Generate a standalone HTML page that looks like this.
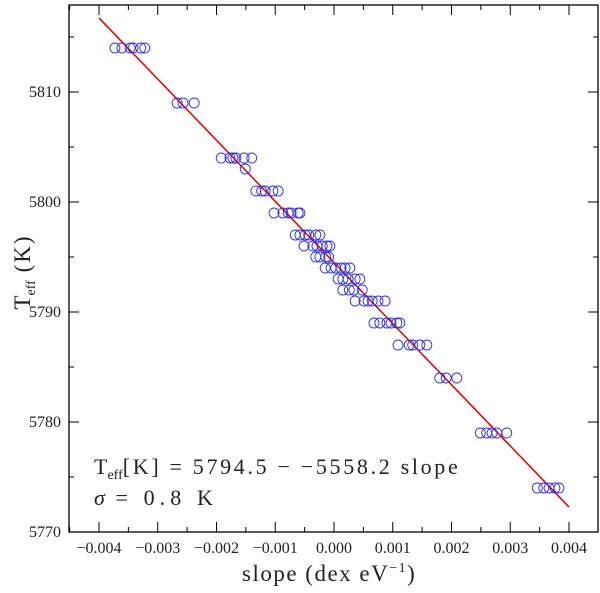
<!DOCTYPE html>
<html><head><meta charset="utf-8"><style>
body{margin:0;background:#fff}
svg text{font-family:"Liberation Serif",serif;fill:#222}
</style></head><body>
<svg id="c" width="600" height="588" viewBox="0 0 600 588"></svg>
<script>
const xTicks=[-0.004,-0.003,-0.002,-0.001,0,0.001,0.002,0.003,0.004];
const xTickLabels=["\u22120.004","\u22120.003","\u22120.002","\u22120.001","0.000","0.001","0.002","0.003","0.004"];
const yTicks=[5770,5780,5790,5800,5810];
const yTickLabels=["5770","5780","5790","5800","5810"];
const fitIntercept=5794.5;
const fitSlope=-5558.2;
const ptTeff=[5814,5814,5814,5814,5814,5814,5809,5809,5809,5804,5804,5804,5804,5804,5804,5803,5801,5801,5801,5801,5801,5799,5799,5799,5799,5799,5799,5797,5797,5797,5797,5797,5797,5796,5796,5796,5796,5796,5796,5795,5795,5795,5795,5794,5794,5794,5794,5794,5794,5793,5793,5793,5793,5793,5792,5792,5792,5792,5791,5791,5791,5791,5791,5791,5789,5789,5789,5789,5789,5789,5787,5787,5787,5787,5787,5784,5784,5784,5779,5779,5779,5779,5779,5774,5774,5774,5774,5774];
const ptSlope=[-3.73,-3.61,-3.47,-3.42,-3.29,-3.22,-2.67,-2.57,-2.38,-1.92,-1.77,-1.72,-1.67,-1.53,-1.40,-1.51,-1.33,-1.23,-1.17,-1.04,-0.95,-1.02,-0.87,-0.78,-0.73,-0.61,-0.58,-0.66,-0.58,-0.49,-0.43,-0.31,-0.24,-0.51,-0.36,-0.29,-0.20,-0.12,-0.07,-0.31,-0.24,-0.14,-0.09,-0.15,-0.05,0.03,0.12,0.19,0.27,0.07,0.15,0.24,0.36,0.44,0.15,0.26,0.34,0.48,0.36,0.51,0.58,0.65,0.75,0.87,0.68,0.78,0.90,0.97,1.07,1.12,1.09,1.28,1.34,1.46,1.58,1.80,1.91,2.09,2.49,2.60,2.69,2.77,2.94,3.46,3.57,3.66,3.76,3.83].map(v=>v*1e-3);

const L=69,R=598,T=5,B=532;
const sx=v=>334+v*58750;
const sy=v=>92+(5810-v)*11;
const svg=document.getElementById('c');
const NS='http://www.w3.org/2000/svg';
function mk(t,a,p){const e=document.createElementNS(NS,t);for(const k in a)e.setAttribute(k,a[k]);(p||svg).appendChild(e);return e;}

const frame=mk('rect',{x:L,y:T,width:R-L,height:B-T,fill:'none',stroke:'#000','stroke-width':1.3});



for(let i=-9;i<=9;i++){const v=i*0.0005;const x=sx(v);if(x<L||x>R)continue;const len=(i%2===0)?10:5;
 mk('line',{x1:x,y1:B,x2:x,y2:B-len,stroke:'#000','stroke-width':1});
 mk('line',{x1:x,y1:T,x2:x,y2:T+len,stroke:'#000','stroke-width':1});}
for(let i=0;i<=10;i++){const v=5770+i*5;const y=sy(v);if(y<T||y>B)continue;const len=(i%2===0)?10:5;
 mk('line',{x1:L,y1:y,x2:L+len,y2:y,stroke:'#000','stroke-width':1});
 mk('line',{x1:R,y1:y,x2:R-len,y2:y,stroke:'#000','stroke-width':1});}

xTicks.forEach((v,i)=>{const t=mk('text',{x:sx(v),y:553,'text-anchor':'middle','font-size':16});t.textContent=xTickLabels[i];
 
 });
yTicks.forEach((v,i)=>{const t=mk('text',{x:61,y:sy(v)+5,'text-anchor':'end','font-size':16});t.textContent=yTickLabels[i];
 
 });

const fit=mk('line',{x1:sx(-0.004),y1:sy(fitIntercept+fitSlope*-0.004),x2:sx(0.004),y2:sy(fitIntercept+fitSlope*0.004),stroke:'#e00000','stroke-width':1.5});



ptSlope.forEach((s,i)=>{const c=mk('circle',{cx:sx(s),cy:sy(ptTeff[i]),r:5,fill:'none',stroke:'#3030e0','stroke-width':0.9});
 
 });
</script>
<svg width="600" height="588" style="position:absolute;left:0;top:0">
<text x="242" y="581" font-size="23" style="letter-spacing:1.5px">slope (dex eV<tspan font-size="14" dy="-9">−1</tspan><tspan dy="9">)</tspan></text>
<text transform="translate(30,272) rotate(-90)" text-anchor="middle" font-size="23">T<tspan font-size="14" dy="5">eff</tspan><tspan dy="-5" style="letter-spacing:2px">  (K)</tspan></text>
<text x="94" y="474" font-size="22">T<tspan font-size="14" dy="5">eff</tspan><tspan dy="-5" textLength="335" lengthAdjust="spacing">[K] = 5794.5 − −5558.2 slope</tspan></text>
<text x="94" y="505" font-size="22"><tspan font-style="italic">σ</tspan><tspan textLength="108" lengthAdjust="spacing"> = 0.8 K</tspan></text>
</svg>
</body></html>
